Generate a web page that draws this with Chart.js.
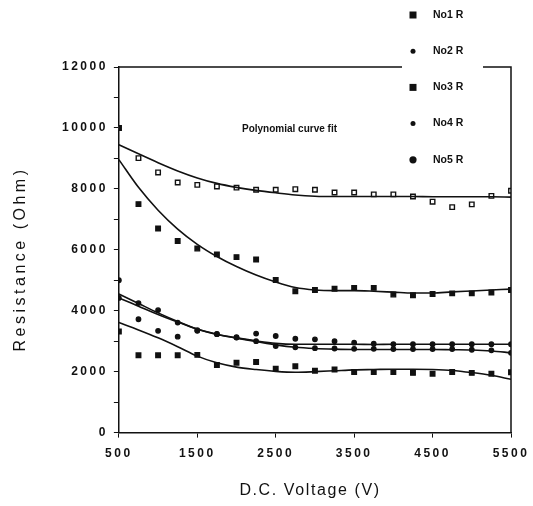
<!DOCTYPE html>
<html>
<head>
<meta charset="utf-8">
<script src="https://cdn.jsdelivr.net/npm/chart.js@4.4.1/dist/chart.umd.min.js"></script>
<style>
  html, body { margin: 0; padding: 0; background: #fff; }
</style>
</head>
<body>
<canvas id="myChart" width="533" height="506"></canvas>
<script>
// voltage steps (V)
let volts = [500, 750, 1000, 1250, 1500, 1750, 2000, 2250, 2500, 2750, 3000,
             3250, 3500, 3750, 4000, 4250, 4500, 4750, 5000, 5250, 5500];

// measured resistance (Ohm)
let no5R = [10000, 9010, 8540, 8210, 8130, 8080, 8040, 7970, 7970, 7990, 7970,
            7880, 7880, 7820, 7820, 7750, 7580, 7400, 7490, 7770, 7940];
let no3R = [10000, 7500, 6700, 6290, 6040, 5850, 5760, 5680, 5010, 4640, 4680,
            4720, 4750, 4750, 4530, 4510, 4550, 4570, 4570, 4600, 4680];
let no4R = [5000, 4250, 4020, 3610, 3340, 3230, 3120, 3000, 2840, 2800, 2770,
            2760, 2750, 2750, 2740, 2740, 2740, 2740, 2720, 2700, 2620];
let no2R = [4420, 3720, 3340, 3150, 3360, 3240, 3130, 3250, 3170, 3080, 3060,
            3000, 2950, 2920, 2900, 2900, 2900, 2900, 2900, 2900, 2900];
let no1R = [3320, 2540, 2540, 2540, 2550, 2220, 2290, 2320, 2100, 2180, 2030,
            2070, 1990, 1990, 1990, 1960, 1930, 1990, 1960, 1930, 1980];

// polynomial curve fit
let fit5 = [9450, 9150, 8860, 8590, 8360, 8180, 8050, 7950, 7870, 7800, 7760,
            7750, 7750, 7750, 7750, 7750, 7740, 7740, 7740, 7740, 7730];
let fit3 = [8960, 8050, 7300, 6680, 6180, 5780, 5450, 5170, 4940, 4760, 4680,
            4660, 4660, 4640, 4610, 4580, 4580, 4620, 4650, 4680, 4710];
let fit4 = [4550, 4240, 3930, 3650, 3400, 3230, 3110, 3010, 2930, 2900, 2900,
            2900, 2900, 2890, 2900, 2900, 2900, 2900, 2900, 2900, 2900];
let fit2 = [4420, 4150, 3880, 3630, 3390, 3220, 3100, 2990, 2880, 2800, 2760,
            2740, 2730, 2730, 2730, 2730, 2730, 2720, 2710, 2680, 2620];
let fit1 = [3610, 3370, 3110, 2820, 2510, 2290, 2150, 2070, 2010, 1980, 2000,
            2030, 2060, 2070, 2080, 2080, 2070, 2040, 1970, 1880, 1750];

let legendNames = ["No1 R", "No2 R", "No3 R", "No4 R", "No5 R"];
let legendShapes = ["rect", "circle", "rect", "circle", "bigcircle"];

let xTicks = [500, 1500, 2500, 3500, 4500, 5500];
let yLabelStep = 2000;

function pts(values) {
  return values.map((v, i) => ({x: volts[i], y: v}));
}

function fitLine(values) {
  return {
    type: 'line',
    data: pts(values),
    borderColor: '#111',
    borderWidth: 1.6,
    pointRadius: 0,
    cubicInterpolationMode: 'monotone',
    fill: false
  };
}

function marks(label, values, style, radius, fillColor) {
  return {
    type: 'scatter',
    label: label,
    data: pts(values),
    pointStyle: style,
    pointRadius: radius,
    backgroundColor: fillColor,
    borderColor: '#111',
    borderWidth: 1.4
  };
}

// letter spaced tick labels like the scan
const spacingPlugin = {
  id: 'spacing',
  afterInit(chart) { chart.ctx.letterSpacing = '2.5px'; },
  beforeUpdate(chart) { chart.ctx.letterSpacing = '2.5px'; },
  beforeDraw(chart) { chart.ctx.letterSpacing = '2.5px'; }
};

// box, legend, note and axis titles
const framePlugin = {
  id: 'frame',
  afterDraw(chart) {
    const c = chart.ctx;
    const a = chart.chartArea;
    c.save();
    c.letterSpacing = '0px';
    c.strokeStyle = '#111';
    c.lineWidth = 1.5;
    c.beginPath();
    c.moveTo(a.left, a.top);
    c.lineTo(402, a.top);
    c.moveTo(483, a.top);
    c.lineTo(a.right, a.top);
    c.lineTo(a.right, a.bottom);
    c.stroke();

    // legend
    c.fillStyle = '#111';
    c.font = 'bold 10.5px "Liberation Sans", Arial, sans-serif';
    c.textBaseline = 'middle';
    legendNames.forEach((name, i) => {
      let y = 15 + i * 36.2;
      let shape = legendShapes[i];
      c.beginPath();
      if (shape === 'rect') {
        c.rect(409.5, y - 3.5, 7, 7);
      } else if (shape === 'circle') {
        c.arc(413, y, 2.5, 0, Math.PI * 2);
      } else {
        c.arc(413, y, 3.6, 0, Math.PI * 2);
      }
      c.fill();
      c.fillText(name, 433, y);
    });

    c.font = 'bold 10px "Liberation Sans", Arial, sans-serif';
    c.textAlign = 'left';
    c.fillText('Polynomial curve fit', 242, 129);

    // axis titles
    c.font = '16px "Liberation Sans", Arial, sans-serif';
    c.textAlign = 'center';
    c.letterSpacing = '1.6px';
    c.fillText('D.C. Voltage (V)', 310, 491);
    c.translate(21, 259);
    c.rotate(-Math.PI / 2);
    c.letterSpacing = '3.5px';
    c.fillText('Resistance (Ohm)', 0, 0);
    c.restore();
  }
};

function generateGraph() {
  var ctx = document.getElementById('myChart').getContext('2d');
  var myChart = new Chart(ctx, {
    data: {
      datasets: [
        fitLine(fit5),
        fitLine(fit3),
        fitLine(fit4),
        fitLine(fit2),
        fitLine(fit1),
        marks('No3 R', no3R, 'rect', 3.2, '#111'),
        marks('No5 R', no5R, 'rect', 3.2, '#fff'),
        marks('No4 R', no4R, 'circle', 2.2, '#111'),
        marks('No2 R', no2R, 'circle', 2.2, '#111'),
        marks('No1 R', no1R, 'rect', 3.2, '#111')
      ]
    },
    options: {
      responsive: false,
      animation: false,
      devicePixelRatio: 1,
      layout: {
        padding: {left: 56, right: 22, top: 67, bottom: 36}
      },
      plugins: {
        legend: {display: false},
        tooltip: {enabled: false}
      },
      scales: {
        x: {
          type: 'linear',
          min: xTicks[0],
          max: xTicks[xTicks.length - 1],
          afterFit: (scale) => { scale.paddingRight = 0; scale.paddingLeft = 0; },
          grid: {drawOnChartArea: false, drawTicks: true, tickLength: 5, color: '#111'},
          border: {display: true, color: '#111', width: 1.5},
          ticks: {
            stepSize: 1000,
            padding: 9,
            color: '#111',
            maxRotation: 0,
            font: {family: '"Liberation Sans", Arial, sans-serif', size: 12, weight: 'bold'},
            callback: (v) => String(v)
          }
        },
        y: {
          min: 0,
          max: 12000,
          grid: {drawOnChartArea: false, drawTicks: true, tickLength: 5, color: '#111'},
          border: {display: true, color: '#111', width: 1.5},
          ticks: {
            stepSize: 1000,
            padding: 6,
            color: '#111',
            font: {family: '"Liberation Sans", Arial, sans-serif', size: 12, weight: 'bold'},
            callback: (v) => (v % yLabelStep === 0 ? String(v) : '')
          }
        }
      }
    },
    plugins: [spacingPlugin, framePlugin]
  });
}

generateGraph();
</script>
</body>
</html>
